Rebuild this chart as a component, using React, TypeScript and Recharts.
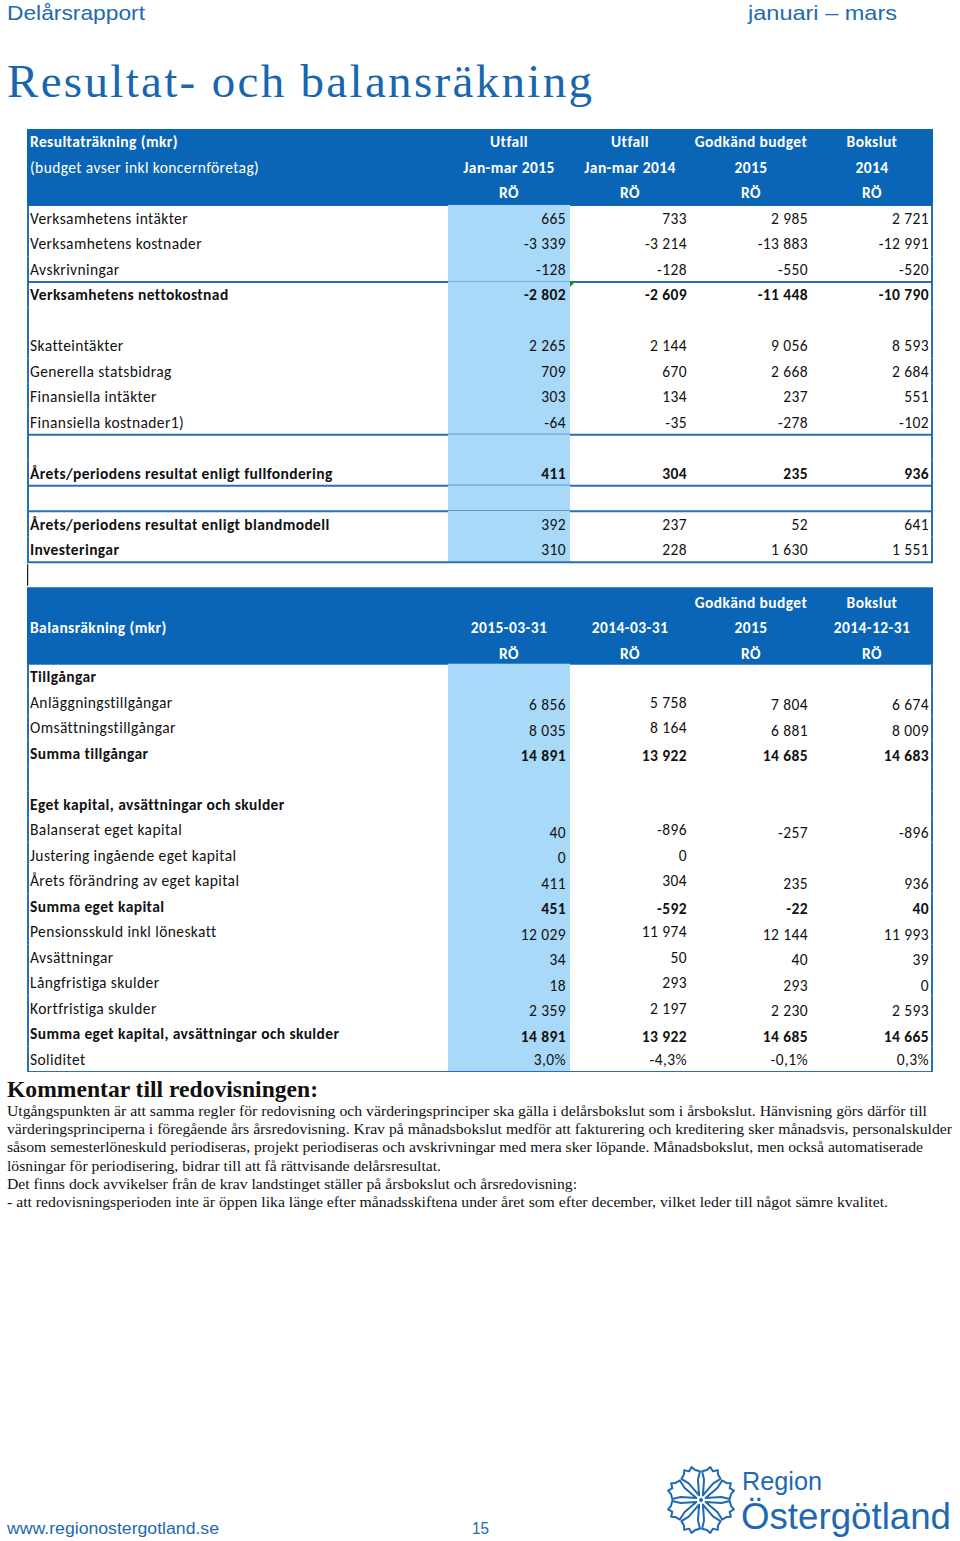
import React from "react";
import { BarChart, Bar, XAxis, YAxis } from "recharts";

// Resultaträkning (mkr)
const RESULT_HEAD = [
  ["Resultaträkning (mkr)", "Utfall", "Utfall", "Godkänd budget", "Bokslut"],
  ["(budget avser inkl koncernföretag)", "Jan-mar 2015", "Jan-mar 2014", "2015", "2014"],
  ["", "RÖ", "RÖ", "RÖ", "RÖ"],
];
const RESULT_LABELS = [
  "Verksamhetens intäkter",
  "Verksamhetens kostnader",
  "Avskrivningar",
  "Verksamhetens nettokostnad",
  "",
  "Skatteintäkter",
  "Generella statsbidrag",
  "Finansiella intäkter",
  "Finansiella kostnader1)",
  "",
  "Årets/periodens resultat enligt fullfondering",
  "",
  "Årets/periodens resultat enligt blandmodell",
  "Investeringar",
];
const RESULT_UTFALL_2015 = [665, -3339, -128, -2802, null, 2265, 709, 303, -64, null, 411, null, 392, 310];
const RESULT_UTFALL_2014 = [733, -3214, -128, -2609, null, 2144, 670, 134, -35, null, 304, null, 237, 228];
const RESULT_BUDGET_2015 = [2985, -13883, -550, -11448, null, 9056, 2668, 237, -278, null, 235, null, 52, 1630];
const RESULT_BOKSLUT_2014 = [2721, -12991, -520, -10790, null, 8593, 2684, 551, -102, null, 936, null, 641, 1551];
const RESULT_BOLD_LABEL = [3, 10, 12, 13];
const RESULT_BOLD_VALUES = [3, 10];
const RESULT_RULES = [2, 8, 10, 11, 13];

// Balansräkning (mkr)
const BALANCE_HEAD = [
  ["", "", "", "Godkänd budget", "Bokslut"],
  ["Balansräkning  (mkr)", "2015-03-31", "2014-03-31", "2015", "2014-12-31"],
  ["", "RÖ", "RÖ", "RÖ", "RÖ"],
];
const BALANCE_LABELS = [
  "Tillgångar",
  "Anläggningstillgångar",
  "Omsättningstillgångar",
  "Summa tillgångar",
  "",
  "Eget kapital, avsättningar och skulder",
  "Balanserat eget kapital",
  "Justering ingående eget kapital",
  "Årets förändring av eget kapital",
  "Summa eget kapital",
  "Pensionsskuld inkl löneskatt",
  "Avsättningar",
  "Långfristiga skulder",
  "Kortfristiga skulder",
  "Summa eget kapital, avsättningar och skulder",
  "Soliditet",
];
const BALANCE_2015_03 = [null, 6856, 8035, 14891, null, null, 40, 0, 411, 451, 12029, 34, 18, 2359, 14891, 3.0];
const BALANCE_2014_03 = [null, 5758, 8164, 13922, null, null, -896, 0, 304, -592, 11974, 50, 293, 2197, 13922, -4.3];
const BALANCE_BUDGET_2015 = [null, 7804, 6881, 14685, null, null, -257, null, 235, -22, 12144, 40, 293, 2230, 14685, -0.1];
const BALANCE_BOKSLUT_2014 = [null, 6674, 8009, 14683, null, null, -896, null, 936, 40, 11993, 39, 0, 2593, 14665, 0.3];
const BALANCE_BOLD_LABEL = [0, 3, 5, 9, 14];
const BALANCE_BOLD_VALUES = [3, 9, 14];
const BALANCE_PCT_ROW = 15;

const COMMENT_LINES = [
  "Utgångspunkten är att samma regler för redovisning och värderingsprinciper ska gälla i delårsbokslut som i årsbokslut. Hänvisning görs därför till",
  "värderingsprinciperna i föregående års årsredovisning. Krav på månadsbokslut medför att fakturering och kreditering sker månadsvis, personalskulder",
  "såsom semesterlöneskuld periodiseras, projekt periodiseras och avskrivningar med mera sker löpande. Månadsbokslut, men också automatiserade",
  "lösningar för periodisering, bidrar till att få rättvisande delårsresultat.",
  "Det finns dock avvikelser från de krav landstinget ställer på årsbokslut och årsredovisning:",
  "- att redovisningsperioden inte är öppen lika länge efter månadsskiftena under året som efter december, vilket leder till något sämre kvalitet.",
];
const COMMENT_WIDTHS = [920, 945, 916, 434, 570, 881];

const HEAD_BLUE = "#0A65B6";
const CELL_BLUE = "#A9D9F8";
const RULE_BLUE = "#2A6EB5";
const PAGE_BLUE = "#1E69B0";
const TABLE_FONT = "Carlito, Lato, sans-serif";
const TABLE_SIZE = 15.5;
const TABLE_SPACING = 0.4;

const TABLE_W = 906;
const TABLE_H = 943;
const COL_LEFT = 421;
const COL_RIGHT = 543;
const VALUE_RIGHT = [539, 660, 781, 902];
const HEAD_CENTER = [482, 603, 724, 845];

type Row = {
  id: string;
  kind: "head" | "data" | "gap";
  table: number;
  texts?: string[];
  label?: string;
  values?: string[];
  labelBold?: boolean;
  valuesBold?: boolean;
  ruleBelow?: boolean;
  pct?: boolean;
  flag?: boolean;
};

function fmt(v: number | null, pct = false) {
  if (v === null || v === undefined) return "";
  if (pct) return v.toFixed(1).replace(".", ",") + "%";
  const s = Math.abs(v).toString().replace(/\B(?=(\d{3})+(?!\d))/g, " ");
  return (v < 0 ? "-" : "") + s;
}

const rows: Row[] = [];
RESULT_HEAD.forEach((h, i) => rows.push({ id: `r-h${i}`, kind: "head", table: 1, texts: h, labelBold: i === 0 }));
RESULT_LABELS.forEach((label, i) =>
  rows.push({
    id: `r-${i}`,
    kind: "data",
    table: 1,
    label,
    values: [RESULT_UTFALL_2015[i], RESULT_UTFALL_2014[i], RESULT_BUDGET_2015[i], RESULT_BOKSLUT_2014[i]].map((v) => fmt(v)),
    labelBold: RESULT_BOLD_LABEL.includes(i),
    valuesBold: RESULT_BOLD_VALUES.includes(i),
    ruleBelow: RESULT_RULES.includes(i),
    flag: i === 3,
  })
);
rows.push({ id: "gap", kind: "gap", table: 0 });
BALANCE_HEAD.forEach((h, i) => rows.push({ id: `b-h${i}`, kind: "head", table: 2, texts: h, labelBold: i === 1 }));
BALANCE_LABELS.forEach((label, i) =>
  rows.push({
    id: `b-${i}`,
    kind: "data",
    table: 2,
    label,
    values: [BALANCE_2015_03[i], BALANCE_2014_03[i], BALANCE_BUDGET_2015[i], BALANCE_BOKSLUT_2014[i]].map((v) =>
      fmt(v, i === BALANCE_PCT_ROW)
    ),
    labelBold: BALANCE_BOLD_LABEL.includes(i),
    valuesBold: BALANCE_BOLD_VALUES.includes(i),
    ruleBelow: i === BALANCE_LABELS.length - 1,
    pct: i === BALANCE_PCT_ROW,
  })
);

const ROW_H = TABLE_H / rows.length;

function RowTick(props: any) {
  const { y, payload } = props;
  const row = rows.find((r) => r.id === payload.value);
  if (!row) return null;
  const top = y - ROW_H / 2;
  const bottom = y + ROW_H / 2;

  if (row.kind === "gap") {
    return <line x1={0.5} x2={0.5} y1={top + 2} y2={bottom - 2} stroke="#222" strokeWidth={1.5} />;
  }

  if (row.kind === "head") {
    const t = row.texts || [];
    const dy = row.table === 2 ? 2 : 0;
    return (
      <g fontFamily={TABLE_FONT} fontSize={TABLE_SIZE} letterSpacing={TABLE_SPACING}>
        <rect x={0} y={top - 0.5} width={TABLE_W} height={ROW_H + 1} fill={HEAD_BLUE} />
        <text x={3} y={y + dy} dominantBaseline="central" fill="#fff" fontWeight={row.labelBold ? 700 : 400}>
          {t[0]}
        </text>
        {t.slice(1).map((s, i) => (
          <text key={i} x={HEAD_CENTER[i]} y={y + dy} textAnchor="middle" dominantBaseline="central" fill="#fff" fontWeight={700}>
            {s}
          </text>
        ))}
      </g>
    );
  }

  const values = row.values || [];
  return (
    <g fontFamily={TABLE_FONT} fontSize={TABLE_SIZE} fill="#111" letterSpacing={TABLE_SPACING}>
      <rect x={COL_LEFT} y={top - 0.5} width={COL_RIGHT - COL_LEFT} height={ROW_H + 1} fill={CELL_BLUE} />
      <line x1={1} x2={1} y1={top} y2={bottom} stroke={RULE_BLUE} strokeWidth={2} />
      <line x1={TABLE_W - 1} x2={TABLE_W - 1} y1={top} y2={bottom} stroke={RULE_BLUE} strokeWidth={2} />
      {row.ruleBelow && <line x1={0} x2={TABLE_W} y1={bottom} y2={bottom} stroke={RULE_BLUE} strokeWidth={2} />}
      {row.flag && <polygon points={`${COL_RIGHT},${top - 1} ${COL_RIGHT + 6},${top - 1} ${COL_RIGHT},${top + 5}`} fill="#1e8a3a" />}
      <text x={3} y={y} dominantBaseline="central" fontWeight={row.labelBold ? 700 : 400}>
        {row.label}
      </text>
      {values.map((s, i) => {
        let dy = 0;
        if (row.table === 2 && !row.pct && row.label && !row.labelBold) dy = i === 1 ? 0 : 2.5;
        if (row.table === 2 && row.valuesBold) dy = 2.5;
        return (
          <text key={i} x={VALUE_RIGHT[i]} y={y + dy} textAnchor="end" dominantBaseline="central" fontWeight={row.valuesBold ? 700 : 400}>
            {s}
          </text>
        );
      })}
    </g>
  );
}

function Emblem({ cx, cy }: { cx: number; cy: number }) {
  const petal = "M0,-5 L-5,-20 L-10,-27 L-6,-30 L-4,-34 L0,-31 L4,-34 L6,-30 L10,-27 L5,-20 Z";
  return (
    <g transform={`translate(${cx},${cy})`} fill="none" stroke={PAGE_BLUE} strokeWidth={2} strokeLinejoin="round">
      {[0, 45, 90, 135, 180, 225, 270, 315].map((a) => (
        <path key={a} d={petal} transform={`rotate(${a + 22.5})`} />
      ))}
      <circle r={2} fill={PAGE_BLUE} stroke="none" />
    </g>
  );
}

export default function App() {
  return (
    <div style={{ position: "absolute", left: 0, top: 0, width: 960, height: 1541, background: "#fff", overflow: "hidden" }}>
      <svg width={960} height={1541} style={{ position: "absolute", left: 0, top: 0 }}>
        <g fill={PAGE_BLUE} fontFamily="'Liberation Sans', Arial, sans-serif">
          <text x={7} y={20} fontSize={21} textLength={138} lengthAdjust="spacingAndGlyphs">Delårsrapport</text>
          <text x={748} y={20} fontSize={21} textLength={149} lengthAdjust="spacingAndGlyphs">januari – mars</text>
          <text x={7} y={1534} fontSize={16} textLength={212} lengthAdjust="spacingAndGlyphs">www.regionostergotland.se</text>
          <text x={472} y={1534} fontSize={16} textLength={17} lengthAdjust="spacingAndGlyphs">15</text>
          <text x={742} y={1490} fontSize={25} textLength={80} lengthAdjust="spacingAndGlyphs">Region</text>
          <text x={741} y={1529} fontSize={36} textLength={210} lengthAdjust="spacingAndGlyphs">Östergötland</text>
        </g>
        <text x={7} y={97} fontSize={47} fill="#1766AE" fontFamily="'Liberation Serif', serif" textLength={585} lengthAdjust="spacing">
          Resultat- och balansräkning
        </text>
        <text x={7} y={1097} fontSize={23} fontWeight={700} fill="#111" fontFamily="'Liberation Serif', serif" textLength={311} lengthAdjust="spacingAndGlyphs">
          Kommentar till redovisningen:
        </text>
        <g fontSize={15.5} fill="#111" fontFamily="'Liberation Serif', serif">
          {COMMENT_LINES.map((line, i) => (
            <text key={i} x={7} y={1116 + i * 18.2} textLength={COMMENT_WIDTHS[i]} lengthAdjust="spacingAndGlyphs">
              {line}
            </text>
          ))}
        </g>
        <Emblem cx={701} cy={1500} />
      </svg>
      <div style={{ position: "absolute", left: 27, top: 129 }}>
        <BarChart width={TABLE_W} height={TABLE_H} data={rows} layout="vertical" margin={{ top: 0, right: 0, bottom: 0, left: 0 }}>
          <XAxis type="number" hide domain={[0, 1]} />
          <YAxis type="category" dataKey="id" width={1} interval={0} axisLine={false} tickLine={false} tick={(p: any) => <RowTick {...p} />} />
          <Bar dataKey="none" isAnimationActive={false} />
        </BarChart>
      </div>
    </div>
  );
}
